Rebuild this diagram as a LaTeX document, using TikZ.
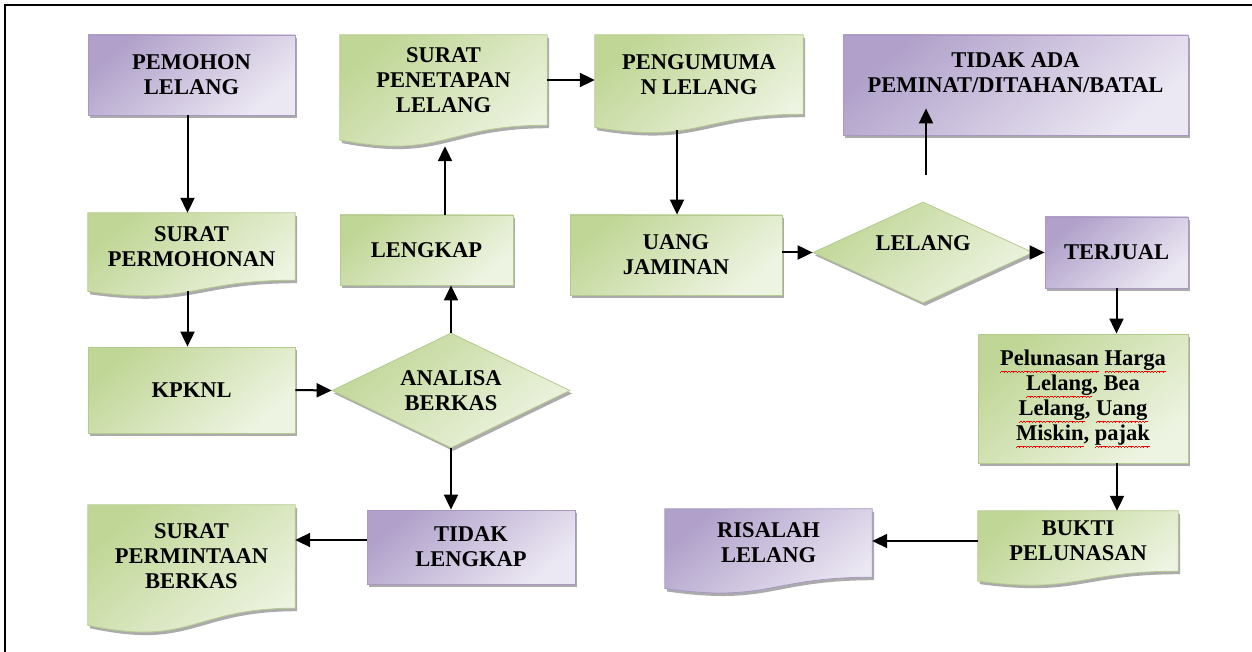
\documentclass[tikz,border=0pt]{standalone}
\usepackage{fontspec}
\setmainfont{Liberation Serif}
\usetikzlibrary{arrows.meta,shapes.geometric,shadows,calc}
\pgfdeclarelayer{background}
\pgfsetlayers{background,main}

\definecolor{gA}{RGB}{192,214,150}
\definecolor{gB}{RGB}{238,244,226}
\definecolor{gE}{RGB}{180,202,142}
\definecolor{pA}{RGB}{176,160,202}
\definecolor{pB}{RGB}{236,232,243}
\definecolor{pE}{RGB}{168,152,194}
\definecolor{shd}{RGB}{150,150,150}

% red spell-check squiggle under a word (built from tiny rules)
\newsavebox\sqbox
\newcommand\sqwave{\hbox{\rule[-7.2pt]{0.8pt}{0.7pt}\rule[-6.6pt]{0.8pt}{0.7pt}\rule[-6pt]{0.8pt}{0.7pt}\rule[-6.6pt]{0.8pt}{0.7pt}}}
\newcommand\sq[1]{\sbox\sqbox{#1}\rlap{\color{red}\hbox to \wd\sqbox{\xleaders\sqwave\hfil}}\usebox\sqbox}

\tikzset{
  lbl/.style={font=\fontsize{22.5}{25}\selectfont\bfseries, align=center, inner sep=0pt, text=black},
  sh/.style={drop shadow={shadow xshift=2pt, shadow yshift=-3pt, fill=shd, opacity=0.8}},
  gfill/.style={top color=gA, bottom color=gB, shading angle=40, draw=gE, line width=0.8pt},
  pfill/.style={top color=pA, bottom color=pB, shading angle=40, draw=pE, line width=0.8pt},
  gbox/.style={lbl, rectangle, gfill, sh},
  pbox/.style={lbl, rectangle, pfill, sh},
  gdia/.style={lbl, diamond, aspect=2, gfill, sh},
  docnode/.style={lbl, rectangle},
  arr/.style={line width=2pt, -{Triangle[width=14pt,length=15pt]}},
  frame/.style={line width=2.5pt, line join=miter},
}

% document shape (Word style) drawn under a node of the text-area size
\newcommand\docshape[2]{%
  \path[#2, sh] (#1.north west) -- (#1.north east) -- (#1.south east)
    .. controls (#1.south) and ($(#1.south)!-0.381!(#1.north)$)
    .. ($(#1.south west)!-0.1646!(#1.north west)$) -- cycle;}

\begin{document}
\begin{tikzpicture}[x=1pt, y=-1pt]
\useasboundingbox (0,0) rectangle (1252,652);
\draw[frame] (5,652) -- (5,5) -- (1252,5);

% rectangles
\node[pbox, minimum width=207pt, minimum height=80pt] (pemohon) at (191.5,75) {PEMOHON\\LELANG};
\node[gbox, minimum width=207pt, minimum height=86pt] (kpknl) at (191.5,390) {KPKNL};
\node[gbox, minimum width=173pt, minimum height=70pt] (lengkap) at (426.5,250) {LENGKAP};
\node[gbox, minimum width=212pt, minimum height=80pt] (uang) at (676,255) {UANG\\JAMINAN};
\node[pbox, minimum width=143pt, minimum height=71pt] (terjual) at (1116.5,252.5) {TERJUAL};
\node[pbox, minimum width=345pt, minimum height=100pt] (tidakada) at (1015.5,85) {TIDAK ADA\\PEMINAT/DITAHAN/BATAL\\\mbox{}};
\node[gbox, minimum width=210pt, minimum height=129pt] (pelunasan) at (1083,398.5)
  {\sq{Pelunasan} \sq{Harga}\\\sq{Lelang}, Bea\\\sq{Lelang}, \sq{Uang}\\\sq{Miskin}, \sq{pajak}};
\node[pbox, minimum width=208pt, minimum height=74pt] (tidaklengkap) at (471,547) {TIDAK\\LENGKAP};

% diamonds
\node[gdia, minimum width=238pt, minimum height=115pt] (analisa) at (451,390.5) {ANALISA\\BERKAS};
\node[gdia, minimum width=220pt, minimum height=101pt] (lelang) at (923,252.5) {LELANG\\[-7pt]\mbox{}};

% document shapes (text area nodes)
\node[docnode, minimum width=207pt, minimum height=67pt] (permohonan) at (191.5,246.5) {SURAT\\PERMOHONAN};
\node[docnode, minimum width=207pt, minimum height=90pt] (penetapan) at (443.5,80) {SURAT\\PENETAPAN\\LELANG};
\node[docnode, minimum width=208pt, minimum height=79pt] (pengumuman) at (699,74.5) {PENGUMUMA\\N LELANG};
\node[docnode, minimum width=207pt, minimum height=103pt] (permintaan) at (191.5,556.5) {SURAT\\PERMINTAAN\\BERKAS};
\node[docnode, minimum width=207pt, minimum height=68pt] (risalah) at (768.5,543) {RISALAH\\LELANG};
\node[docnode, minimum width=200pt, minimum height=60pt] (bukti) at (1078,541) {BUKTI\\PELUNASAN};

\begin{pgfonlayer}{background}
  \docshape{permohonan}{gfill}
  \docshape{penetapan}{gfill}
  \docshape{pengumuman}{gfill}
  \docshape{permintaan}{gfill}
  \docshape{risalah}{pfill}
  \docshape{bukti}{gfill}
\end{pgfonlayer}

% connectors
\draw[arr] ([xshift=-4pt]pemohon.south) -- ([xshift=-4pt]permohonan.north);
\draw[arr] ([xshift=-4pt,yshift=-11pt]permohonan.south) -- ([xshift=-4pt]kpknl.north);
\draw[arr] (kpknl.east) -- (analisa.west);
\draw[arr] (analisa.north) -- (analisa.north |- lengkap.south);
\draw[arr] ([xshift=18.5pt]lengkap.north) -- ([xshift=1.5pt,yshift=-21pt]penetapan.south);
\draw[arr] (penetapan.east) -- (penetapan.east -| pengumuman.west);
\draw[arr] ([xshift=-22pt,yshift=-16pt]pengumuman.south) -- ([xshift=-22pt]pengumuman.south |- uang.north);
\draw[arr] (uang.east |- lelang.west) -- (lelang.west);
\draw[arr] (lelang.east) -- (lelang.east -| terjual.west);
\coordinate (lup) at (926,175);
\draw[arr] (lup) -- ([yshift=27pt]lup |- tidakada.south);
\draw[arr] (terjual.south) -- (terjual.south |- pelunasan.north);
\draw[arr] ([xshift=34pt]pelunasan.south) -- ([xshift=39pt]bukti.north);
\draw[arr] (bukti.west) -- (bukti.west -| risalah.east);
\draw[arr] (analisa.south) -- (analisa.south |- tidaklengkap.north);
\draw[arr] ([yshift=7pt]tidaklengkap.west) -- ([yshift=7pt]tidaklengkap.west -| permintaan.east);
\end{tikzpicture}
\end{document}
